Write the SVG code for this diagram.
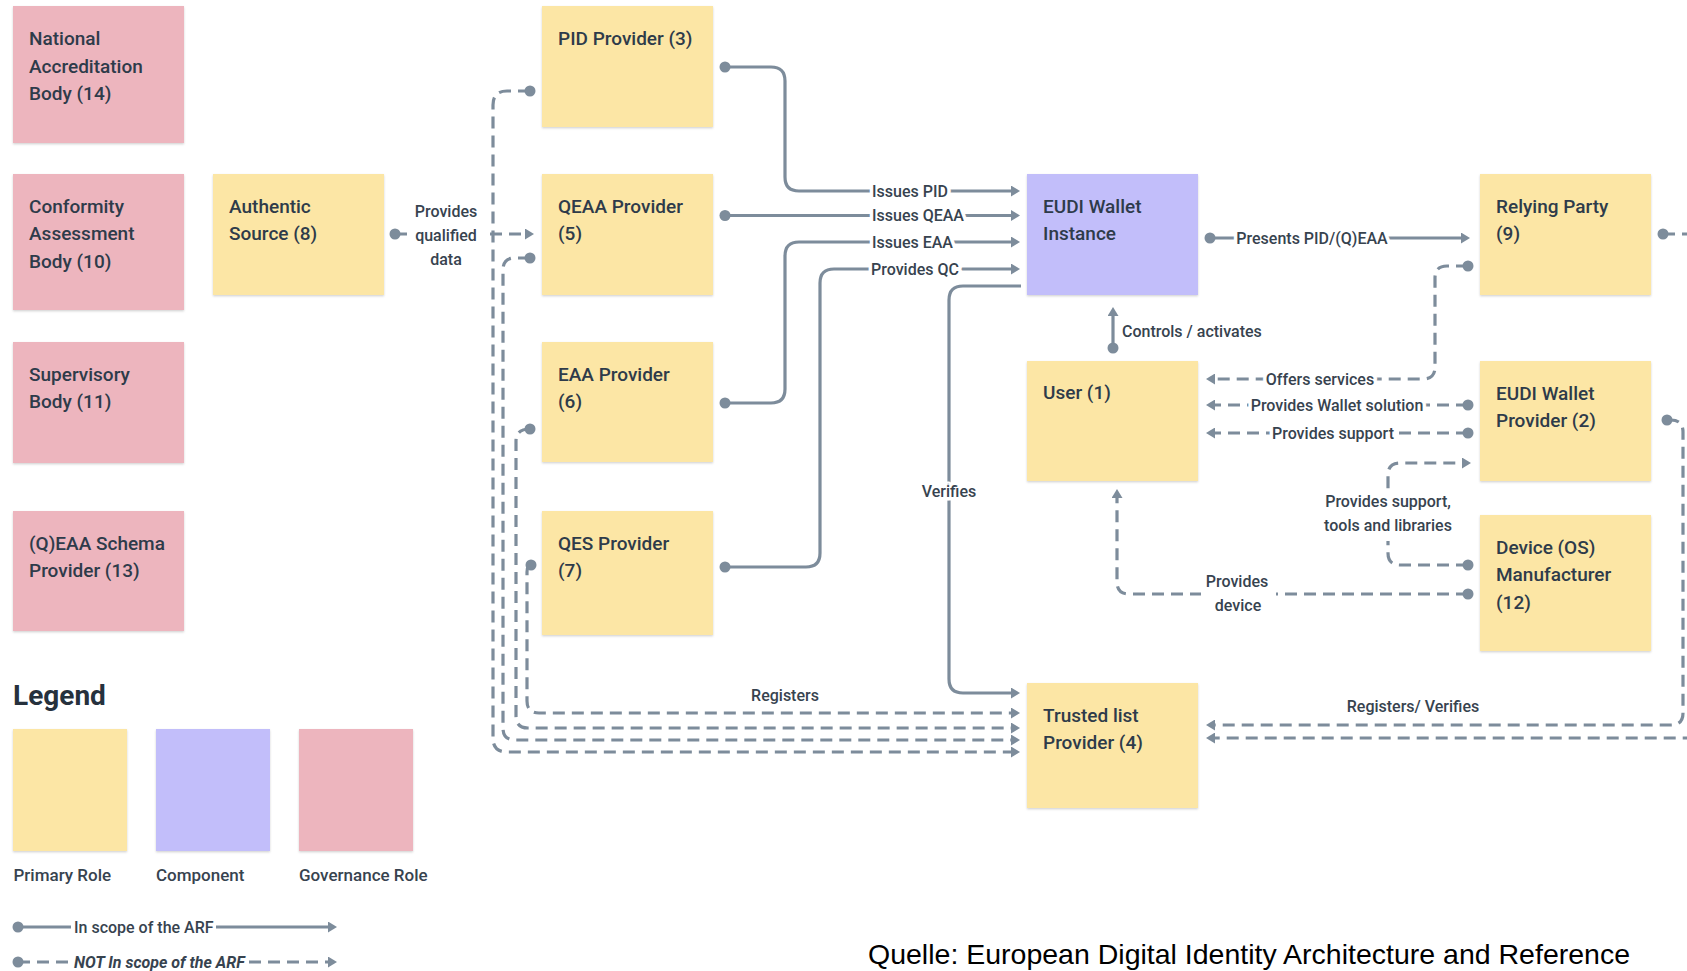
<svg xmlns="http://www.w3.org/2000/svg" width="1687" height="971" viewBox="0 0 1687 971">
<style>
.box{filter:url(#sh)}
.role{fill:#fce6a5}
.comp{fill:#c2befa}
.gov{fill:#edb5be}
.nt{font-family:Roboto,"Liberation Sans",sans-serif;font-size:19px;font-weight:500;fill:#2e3b4a}
.c{fill:none;stroke:#7d8c9b;stroke-width:3.2}
.d{stroke-dasharray:12 7}
.s{marker-start:url(#dot)}
.e{marker-end:url(#arr)}
.lbl{font-family:Roboto,"Liberation Sans",sans-serif;font-size:16px;font-weight:500;fill:#37434f;paint-order:stroke;stroke:#fff;stroke-width:7px;stroke-linejoin:round}
.plain{font-family:Roboto,"Liberation Sans",sans-serif;font-size:16px;font-weight:500;fill:#37434f}
.bg{fill:#fff}
.leg{font-family:Roboto,"Liberation Sans",sans-serif;font-size:17px;font-weight:500;fill:#37434f}
</style>
<defs>
<filter id="sh" x="-5%" y="-5%" width="110%" height="115%">
<feDropShadow dx="0" dy="1.2" stdDeviation="1.2" flood-color="#000" flood-opacity="0.18"/>
</filter>
<marker id="arr" viewBox="0 0 9 11" refX="3" refY="5.5" markerWidth="9" markerHeight="11" markerUnits="userSpaceOnUse" orient="auto">
<path d="M0,0 L9,5.5 L0,11 Z" fill="#7d8c9b"/>
</marker>
<marker id="dot" viewBox="0 0 12 12" refX="6" refY="6" markerWidth="12" markerHeight="12" markerUnits="userSpaceOnUse">
<circle cx="6" cy="6" r="5.5" fill="#7d8c9b"/>
</marker>
</defs>
<rect width="1687" height="971" fill="#fff"/>

<g id="connectors">
<path class="c s e" d="M725,67 H771 Q785,67 785,81 V177 Q785,191 799,191 H1014"/>
<path class="c s e" d="M725,215.5 H1014"/>
<path class="c s e" d="M725,403 H771 Q785,403 785,389 V256 Q785,242 799,242 H1014"/>
<path class="c s e" d="M725,567 H806 Q820,567 820,553 V283 Q820,269 834,269 H1014"/>
<path class="c e" d="M1021,286 H963 Q949,286 949,300 V679 Q949,693 963,693 H1014"/>
<path class="c s e" d="M1210,238 H1464"/>
<path class="c s e" d="M1113,348 V313"/>
<path class="c d s e" d="M1468,266 H1447 Q1435,266 1435,278 V367 Q1435,379 1423,379 H1212"/>
<path class="c d s e" d="M1468,405 H1212"/>
<path class="c d s e" d="M1468,433 H1212"/>
<path class="c d s e" d="M1468,565 H1400 Q1388,565 1388,553 V475 Q1388,463 1400,463 H1465"/>
<path class="c d s e" d="M1468,594 H1129 Q1117,594 1117,582 V495"/>
<path class="c d s e" d="M395,234 H528"/>
<path class="c d s e" d="M530,91 H507 Q493,91 493,105 V738 Q493,752 507,752 H1014"/>
<path class="c d s e" d="M530,258 H515 Q503,258 503,270 V728 Q503,740 515,740 H1014"/>
<path class="c d s e" d="M530,429 Q516,429 516,441 V716 Q516,728 528,728 H1014"/>
<path class="c d s e" d="M531,565 Q527,565 527,572 V701 Q527,713 539,713 H1014"/>
<path class="c d s e" d="M1667,420 H1671 Q1683,420 1683,432 V713 Q1683,725 1671,725 H1212"/>
<path class="c d s e" d="M1663,234 H1695 Q1707,234 1707,246 V726 Q1707,738 1695,738 H1212"/>
</g>

<g id="connector-labels">
<text class="lbl" x="872" y="196.5">Issues PID</text>
<text class="lbl" x="872" y="221">Issues QEAA</text>
<text class="lbl" x="872" y="247.5">Issues EAA</text>
<text class="lbl" x="871" y="274.5">Provides QC</text>
<text class="lbl" x="949" y="497" text-anchor="middle">Verifies</text>
<text class="lbl" x="1312" y="243.5" text-anchor="middle">Presents PID/(Q)EAA</text>
<text class="lbl" x="1122" y="336.5">Controls / activates</text>
<text class="lbl" x="1320" y="384.5" text-anchor="middle">Offers services</text>
<text class="lbl" x="1337" y="410.5" text-anchor="middle">Provides Wallet solution</text>
<text class="lbl" x="1333" y="438.5" text-anchor="middle">Provides support</text>
<rect class="bg" x="1318" y="489" width="140" height="52"/>
<text class="plain" text-anchor="middle"><tspan x="1388" y="507">Provides support,</tspan><tspan x="1388" y="531">tools and libraries</tspan></text>
<rect class="bg" x="1201" y="572" width="75" height="44"/>
<text class="plain" text-anchor="middle"><tspan x="1237" y="587">Provides</tspan><tspan x="1238" y="611">device</tspan></text>
<rect class="bg" x="408" y="200" width="75" height="70"/>
<text class="plain" text-anchor="middle"><tspan x="446" y="217">Provides</tspan><tspan x="446" y="241">qualified</tspan><tspan x="446" y="265">data</tspan></text>
<text class="lbl" x="785" y="701" text-anchor="middle">Registers</text>
<text class="lbl" x="1413" y="712" text-anchor="middle">Registers/ Verifies</text>
</g>

<g id="node-national-accreditation-body">
<rect class="box gov" x="13" y="6" width="171" height="137"/>
<text class="nt"><tspan x="29" y="45">National</tspan><tspan x="29" y="72.5">Accreditation</tspan><tspan x="29" y="100">Body (14)</tspan></text>
</g>
<g id="node-conformity-assessment-body">
<rect class="box gov" x="13" y="174" width="171" height="136"/>
<text class="nt"><tspan x="29" y="212.5">Conformity</tspan><tspan x="29" y="240">Assessment</tspan><tspan x="29" y="267.5">Body (10)</tspan></text>
</g>
<g id="node-supervisory-body">
<rect class="box gov" x="13" y="342" width="171" height="121"/>
<text class="nt"><tspan x="29" y="380.5">Supervisory</tspan><tspan x="29" y="408">Body (11)</tspan></text>
</g>
<g id="node-qeaa-schema-provider">
<rect class="box gov" x="13" y="511" width="171" height="120"/>
<text class="nt"><tspan x="29" y="549.5">(Q)EAA Schema</tspan><tspan x="29" y="577">Provider (13)</tspan></text>
</g>
<g id="node-authentic-source">
<rect class="box role" x="213" y="174" width="171" height="121"/>
<text class="nt"><tspan x="229" y="212.5">Authentic</tspan><tspan x="229" y="240">Source (8)</tspan></text>
</g>
<g id="node-pid-provider">
<rect class="box role" x="542" y="6" width="171" height="121"/>
<text class="nt"><tspan x="558" y="44.5">PID Provider (3)</tspan></text>
</g>
<g id="node-qeaa-provider">
<rect class="box role" x="542" y="174" width="171" height="121"/>
<text class="nt"><tspan x="558" y="212.5">QEAA Provider</tspan><tspan x="558" y="240">(5)</tspan></text>
</g>
<g id="node-eaa-provider">
<rect class="box role" x="542" y="342" width="171" height="120"/>
<text class="nt"><tspan x="558" y="380.5">EAA Provider</tspan><tspan x="558" y="408">(6)</tspan></text>
</g>
<g id="node-qes-provider">
<rect class="box role" x="542" y="511" width="171" height="124"/>
<text class="nt"><tspan x="558" y="549.5">QES Provider</tspan><tspan x="558" y="577">(7)</tspan></text>
</g>
<g id="node-eudi-wallet-instance">
<rect class="box comp" x="1027" y="174" width="171" height="121"/>
<text class="nt"><tspan x="1043" y="212.5">EUDI Wallet</tspan><tspan x="1043" y="240">Instance</tspan></text>
</g>
<g id="node-user">
<rect class="box role" x="1027" y="361" width="171" height="120"/>
<text class="nt"><tspan x="1043" y="398.5">User (1)</tspan></text>
</g>
<g id="node-trusted-list-provider">
<rect class="box role" x="1027" y="683" width="171" height="125"/>
<text class="nt"><tspan x="1043" y="721.5">Trusted list</tspan><tspan x="1043" y="749">Provider (4)</tspan></text>
</g>
<g id="node-relying-party">
<rect class="box role" x="1480" y="174" width="171" height="121"/>
<text class="nt"><tspan x="1496" y="212.5">Relying Party</tspan><tspan x="1496" y="240">(9)</tspan></text>
</g>
<g id="node-eudi-wallet-provider">
<rect class="box role" x="1480" y="361" width="171" height="120"/>
<text class="nt"><tspan x="1496" y="399.5">EUDI Wallet</tspan><tspan x="1496" y="427">Provider (2)</tspan></text>
</g>
<g id="node-device-manufacturer">
<rect class="box role" x="1480" y="515" width="171" height="136"/>
<text class="nt"><tspan x="1496" y="553.5">Device (OS)</tspan><tspan x="1496" y="581">Manufacturer</tspan><tspan x="1496" y="608.5">(12)</tspan></text>
</g>

<g id="legend">
<text x="13" y="705" style="font-family:Roboto,'Liberation Sans',sans-serif;font-size:28px;font-weight:700;fill:#26313d">Legend</text>
<rect class="box role" x="13" y="729" width="114" height="122"/>
<rect class="box comp" x="156" y="729" width="114" height="122"/>
<rect class="box gov" x="299" y="729" width="114" height="122"/>
<text class="leg" x="13.5" y="880.5">Primary Role</text>
<text class="leg" x="156" y="880.5">Component</text>
<text class="leg" x="299" y="880.5">Governance Role</text>
<path class="c s" d="M18,927 H71"/>
<path class="c e" d="M216,927 H331"/>
<text class="plain" x="74" y="933">In scope of the ARF</text>
<path class="c d s" d="M18,962 H71"/>
<path class="c d e" d="M249,962 H331"/>
<text class="plain" x="74" y="968" style="font-weight:700;font-style:italic">NOT In scope of the ARF</text>
</g>

<text x="868" y="964" style="font-family:'Liberation Sans',Arial,sans-serif;font-size:28.5px;fill:#000">Quelle: European Digital Identity Architecture and Reference</text>
</svg>
